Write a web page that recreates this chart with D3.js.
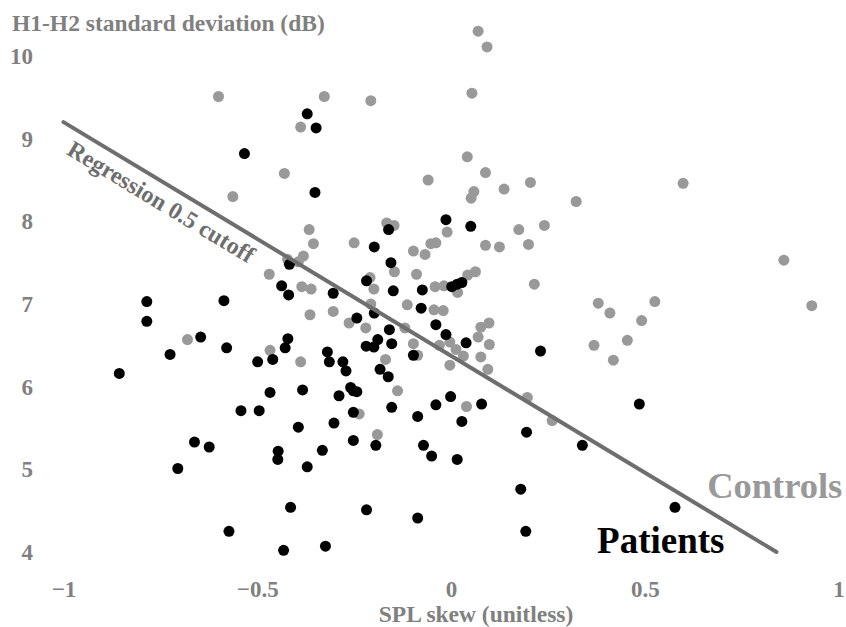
<!DOCTYPE html>
<html>
<head>
<meta charset="utf-8">
<script src="https://cdn.jsdelivr.net/npm/d3@7"></script>
<style>
  body { margin: 0; background: #fff; }
  text { font-family: "Liberation Serif", "Times New Roman", serif; font-weight: bold; }
</style>
</head>
<body>
<div id="chart"></div>
<script>
const width = 846, height = 627;

// controls (grey) : [SPL skew, H1-H2 sd]
const controls = [
  [-0.600, 9.51], [-0.327, 9.51], [-0.207, 9.46], [-0.388, 9.14], [-0.430, 8.58],
  [-0.563, 8.30], [-0.059, 8.50], [-0.366, 7.90], [-0.355, 7.73], [-0.250, 7.74],
  [-0.166, 7.98], [-0.147, 7.95], [-0.097, 7.64], [-0.067, 7.60], [-0.052, 7.73],
  [-0.039, 7.74], [-0.469, 7.36], [-0.381, 7.58], [-0.394, 7.51], [-0.422, 7.54],
  [-0.385, 7.21], [-0.361, 7.18], [-0.209, 7.32], [-0.199, 7.18], [-0.207, 7.00],
  [-0.304, 6.91], [-0.364, 6.87], [-0.146, 7.39], [-0.089, 7.36], [-0.113, 6.99],
  [-0.044, 6.93], [-0.020, 6.92], [0.070, 10.30], [0.093, 10.11], [0.054, 9.55],
  [0.042, 8.78], [0.089, 8.59], [0.059, 8.36], [0.052, 8.28], [0.137, 8.39],
  [0.205, 8.47], [0.323, 8.24], [0.599, 8.46], [0.175, 7.90], [0.241, 7.95],
  [-0.010, 7.87], [0.089, 7.71], [0.125, 7.69], [0.200, 7.72], [0.859, 7.53],
  [0.931, 6.98], [0.043, 7.35], [0.063, 7.39], [0.215, 7.24], [0.380, 7.01],
  [0.410, 6.89], [0.526, 7.03], [0.492, 6.80], [-0.041, 7.21], [-0.018, 7.22],
  [0.017, 7.14], [0.077, 6.72], [0.098, 6.77], [0.070, 6.60], [0.099, 6.51],
  [-0.030, 6.50], [-0.003, 6.54], [0.013, 6.45], [0.032, 6.37], [-0.003, 6.26],
  [0.077, 6.36], [0.095, 6.21], [0.197, 5.87], [0.261, 5.59], [0.040, 5.76],
  [0.369, 6.50], [0.419, 6.32], [0.455, 6.56], [-0.119, 6.71], [-0.097, 6.52],
  [-0.086, 6.38], [-0.169, 6.33], [-0.138, 5.95], [-0.190, 5.42], [-0.263, 6.77],
  [-0.220, 6.71], [-0.467, 6.44], [-0.388, 6.30], [-0.237, 5.67], [-0.680, 6.57]
];

// patients (black)
const patients = [
  [-0.371, 9.30], [-0.348, 9.13], [-0.533, 8.82], [-0.351, 8.35], [-0.161, 7.90],
  [-0.198, 7.69], [-0.155, 7.50], [-0.417, 7.48], [-0.437, 7.22], [-0.419, 7.11],
  [-0.304, 7.13], [-0.218, 7.28], [-0.149, 7.16], [-0.074, 7.17], [-0.077, 6.95],
  [-0.785, 7.03], [-0.586, 7.04], [-0.243, 6.83], [-0.198, 6.89], [-0.013, 8.02],
  [0.051, 7.94], [0.002, 7.21], [0.016, 7.24], [0.028, 7.26], [-0.039, 6.75],
  [-0.013, 6.63], [0.039, 6.53], [0.231, 6.43], [-0.001, 5.88], [-0.039, 5.78],
  [0.079, 5.79], [0.028, 5.58], [-0.086, 5.64], [0.195, 5.45], [0.339, 5.29],
  [0.486, 5.79], [-0.071, 5.29], [-0.050, 5.16], [0.016, 5.12], [0.180, 4.76],
  [0.193, 4.25], [0.578, 4.54], [-0.086, 4.41], [-0.159, 6.69], [-0.189, 6.57],
  [-0.199, 6.48], [-0.219, 6.49], [-0.153, 6.52], [-0.097, 6.38], [-0.183, 6.21],
  [-0.162, 6.12], [-0.153, 5.75], [-0.194, 5.29], [-0.421, 6.58], [-0.428, 6.47],
  [-0.499, 6.30], [-0.460, 6.33], [-0.319, 6.42], [-0.314, 6.30], [-0.279, 6.30],
  [-0.271, 6.19], [-0.579, 6.47], [-0.467, 5.93], [-0.383, 5.96], [-0.289, 5.89],
  [-0.259, 5.99], [-0.252, 5.95], [-0.243, 5.94], [-0.542, 5.71], [-0.495, 5.71],
  [-0.252, 5.69], [-0.394, 5.51], [-0.302, 5.56], [-0.252, 5.35], [-0.446, 5.22],
  [-0.447, 5.12], [-0.332, 5.23], [-0.371, 5.03], [-0.785, 6.79], [-0.646, 6.60],
  [-0.725, 6.39], [-0.856, 6.16], [-0.662, 5.33], [-0.624, 5.27], [-0.705, 5.01],
  [-0.414, 4.54], [-0.218, 4.51], [-0.573, 4.25], [-0.432, 4.02], [-0.324, 4.07]
];

// regression 0.5 cutoff line end points
const regX = [-1, 0.84];
const regY = [9.2, 4.0];

const xTicks = [-1, -0.5, 0, 0.5, 1];
const yTicks = [4, 5, 6, 7, 8, 9, 10];

const svg = d3.select("#chart")
  .append("svg")
    .attr("width", width)
    .attr("height", height);

const x = d3.scaleLinear()
  .domain([-1, 1])
  .range([63.5, 838.5]);

const y = d3.scaleLinear()
  .domain([4, 10])
  .range([552, 56]);

const axisColor = "#808080";

// X axis (labels only)
const gx = svg.append("g")
  .attr("transform", "translate(0,578)")
  .call(d3.axisBottom(x).tickValues(xTicks).tickFormat(d3.format("")).tickSize(0).tickPadding(3));
gx.select(".domain").remove();
gx.selectAll("text")
  .style("font-size", "23px")
  .style("font-family", "Liberation Serif")
  .style("font-weight", "bold")
  .attr("fill", axisColor);

// Y axis (labels only)
const gy = svg.append("g")
  .attr("transform", "translate(36,0)")
  .call(d3.axisLeft(y).tickValues(yTicks).tickFormat(d3.format("d")).tickSize(0).tickPadding(3));
gy.select(".domain").remove();
gy.selectAll("text")
  .style("font-size", "23px")
  .style("font-family", "Liberation Serif")
  .style("font-weight", "bold")
  .attr("fill", axisColor);

// axis titles
svg.append("text")
  .attr("x", 12)
  .attr("y", 31)
  .attr("fill", axisColor)
  .style("font-size", "23.5px")
  .text("H1-H2 standard deviation (dB)");

svg.append("text")
  .attr("x", 476)
  .attr("y", 622)
  .attr("text-anchor", "middle")
  .attr("fill", axisColor)
  .style("font-size", "23.5px")
  .text("SPL skew (unitless)");

// dots
svg.append("g")
  .selectAll("circle")
  .data(controls)
  .join("circle")
    .attr("cx", d => x(d[0]))
    .attr("cy", d => y(d[1]))
    .attr("r", 5.5)
    .attr("fill", "#999999");

svg.append("g")
  .selectAll("circle")
  .data(patients)
  .join("circle")
    .attr("cx", d => x(d[0]))
    .attr("cy", d => y(d[1]))
    .attr("r", 5.5)
    .attr("fill", "#000000");

// regression line
const x0 = x(regX[0]), y0 = y(regY[0]), x1 = x(regX[1]), y1 = y(regY[1]);
svg.append("line")
  .attr("x1", x0).attr("y1", y0)
  .attr("x2", x1).attr("y2", y1)
  .attr("stroke", "#6e6e6e")
  .attr("stroke-width", 4)
  .attr("stroke-linecap", "round");

// label along the line
const ang = Math.atan2(y1 - y0, x1 - x0);
const along = 18, perp = 26;
const lx = x0 + along * Math.cos(ang) - perp * Math.sin(ang);
const ly = y0 + along * Math.sin(ang) + perp * Math.cos(ang);
svg.append("text")
  .attr("transform", `translate(${lx},${ly}) rotate(${ang * 180 / Math.PI})`)
  .attr("fill", "#6e6e6e")
  .style("font-size", "24px")
  .text("Regression 0.5 cutoff");

// group labels
svg.append("text")
  .attr("x", x(0.661))
  .attr("y", y(4.653))
  .attr("fill", "#999999")
  .style("font-size", "36.5px")
  .text("Controls");

svg.append("text")
  .attr("x", x(0.377))
  .attr("y", y(3.988))
  .attr("fill", "#000000")
  .style("font-size", "37px")
  .text("Patients");
</script>
</body>
</html>
